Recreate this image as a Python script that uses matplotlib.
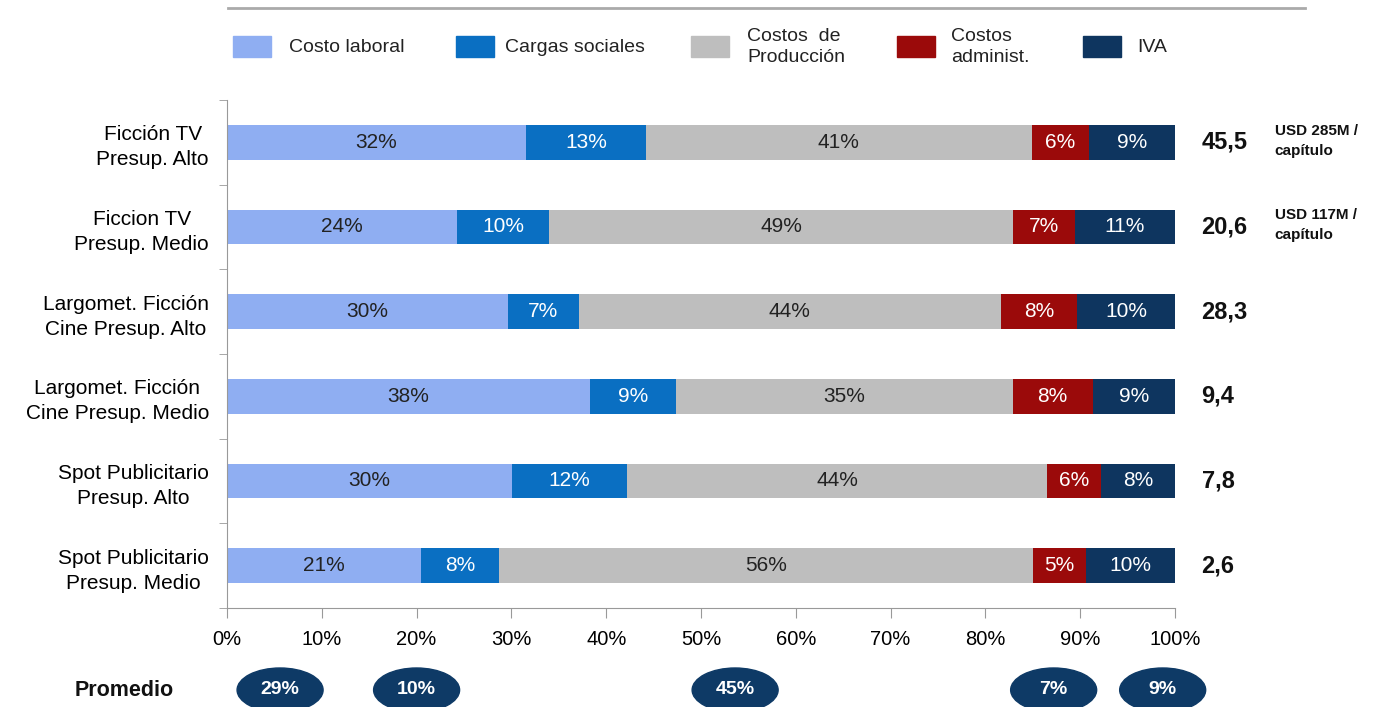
import numpy as np
from matplotlib import pyplot as plt
from matplotlib.patches import Rectangle, Ellipse
from matplotlib.lines import Line2D

plt.rcParams['font.family'] = ['Liberation Sans', 'DejaVu Sans']

categorias = ['Ficción TV\nPresup. Alto', 'Ficcion TV\nPresup. Medio',
              'Largomet. Ficción\nCine Presup. Alto', 'Largomet. Ficción\nCine Presup. Medio',
              'Spot Publicitario\nPresup. Alto', 'Spot Publicitario\nPresup. Medio']
series = ['Costo laboral', 'Cargas sociales', 'Costos  de\nProducción', 'Costos\nadminist.', 'IVA']
colores = ['#8FAEF2', '#0A6FC2', '#BEBEBE', '#9B0A0A', '#0E355F']
color_texto = ['#222222', 'white', '#222222', 'white', 'white']

# anchos (%)
costo_laboral = [31.5, 24.3, 29.6, 38.3, 30.1, 20.5]
cargas_sociales = [12.7, 9.7, 7.5, 9.1, 12.1, 8.2]
costos_produccion = [40.7, 48.9, 44.5, 35.5, 44.3, 56.3]
costos_administ = [6.0, 6.5, 8.1, 8.4, 5.7, 5.6]
iva = [9.1, 10.6, 10.3, 8.7, 7.8, 9.4]
# etiquetas tal como aparecen
etq_laboral = ['32%', '24%', '30%', '38%', '30%', '21%']
etq_cargas = ['13%', '10%', '7%', '9%', '12%', '8%']
etq_produccion = ['41%', '49%', '44%', '35%', '44%', '56%']
etq_administ = ['6%', '7%', '8%', '8%', '6%', '5%']
etq_iva = ['9%', '11%', '10%', '9%', '8%', '10%']

totales = ['45,5', '20,6', '28,3', '9,4', '7,8', '2,6']
notas = ['USD 285M /\ncapítulo', 'USD 117M /\ncapítulo', '', '', '', '']
promedio = ['29%', '10%', '45%', '7%', '9%']
pos_promedio = [5.6, 20.0, 53.6, 87.2, 98.7]

valores = [costo_laboral, cargas_sociales, costos_produccion, costos_administ, iva]
etiquetas = [etq_laboral, etq_cargas, etq_produccion, etq_administ, etq_iva]

fig = plt.figure(figsize=(13.77, 7.07), dpi=100)
ax = fig.add_axes([227/1377, 1-608/707, 948/1377, 508/707])

y = np.arange(len(categorias))
izq = np.zeros(len(categorias))
for vals, etq, col, ctxt in zip(valores, etiquetas, colores, color_texto):
    vals = np.array(vals)
    ax.barh(y, vals, left=izq, height=0.41, color=col)
    for i in range(len(y)):
        ax.text(izq[i] + vals[i]/2, y[i], etq[i], ha='center', va='center',
                fontsize=15, color=ctxt)
    izq = izq + vals

ax.set_xlim(0, 100)
ax.set_ylim(5.5, -0.5)
ax.set_xticks(np.arange(0, 101, 10))
ax.set_xticklabels([f'{v}%' for v in range(0, 101, 10)], fontsize=14.5)
ax.set_yticks(y)
ax.set_yticklabels(categorias, fontsize=15, multialignment='center', linespacing=1.4)
ax.set_yticks(np.arange(-0.5, 5.6, 1), minor=True)
ax.tick_params(axis='y', which='major', length=0, pad=13)
ax.tick_params(axis='y', which='minor', length=6, color='#999999')
ax.tick_params(axis='x', length=7, color='#999999', pad=9)
for s in ['top', 'right']:
    ax.spines[s].set_visible(False)
ax.spines['left'].set_color('#999999')
ax.spines['bottom'].set_color('#999999')

for i in range(len(y)):
    ax.text(102.8, y[i], totales[i], ha='left', va='center', fontsize=17,
            fontweight='bold', color='#111111')
    if notas[i]:
        ax.text(110.5, y[i] - 0.02, notas[i], ha='left', va='center', fontsize=11,
                fontweight='bold', color='#111111', linespacing=1.55)

# linea del titulo (cortado)
fig.add_artist(Line2D([228/1377, 1305/1377], [1-8/707, 1-8/707], color='#AAAAAA', lw=2))

# leyenda
leg_x = [233, 456, 691, 897, 1083]
leg_tx = [289, 505, 747, 951, 1137]
for lx, tx, col, lab in zip(leg_x, leg_tx, colores, series):
    fig.add_artist(Rectangle((lx/1377, 1-57/707), 38/1377, 21/707, color=col))
    fig.text(tx/1377, 1-47/707, lab, ha='left', va='center', fontsize=14,
             color='#222222', linespacing=1.35)

# promedio
fig.text(75/1377, 1-690/707, 'Promedio', ha='left', va='center', fontsize=15.5,
         fontweight='bold', color='#111111')
for p, t in zip(pos_promedio, promedio):
    cx = (227 + p*9.48)/1377
    fig.add_artist(Ellipse((cx, 1-690/707), 86/1377, 44/707, color='#0E3A66'))
    fig.text(cx, 1-690/707, t, ha='center', va='center', fontsize=14,
             fontweight='bold', color='white')

fig.savefig('out.png', dpi=100)
